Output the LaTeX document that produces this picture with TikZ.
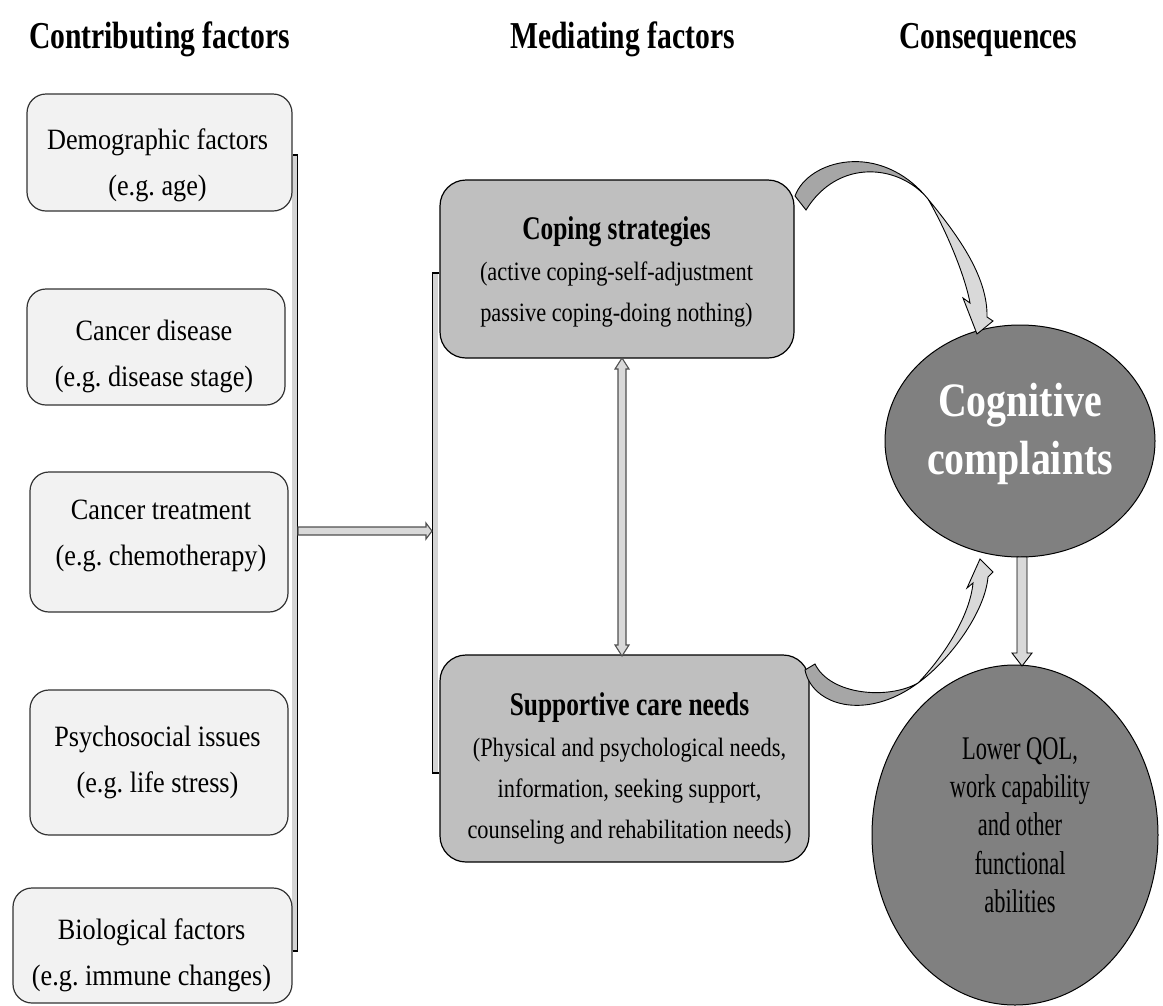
\documentclass[tikz,border=0pt]{standalone}
\usepackage{fontspec}
\setmainfont{Liberation Serif}
\newfontfamily\fleft[FakeStretch=0.89]{Liberation Serif}
\newfontfamily\fmid[FakeStretch=0.845]{Liberation Serif}
\newfontfamily\fmidb[FakeStretch=0.77]{Liberation Serif}
\newfontfamily\ftitle[FakeStretch=0.78]{Liberation Serif}
\newfontfamily\fcog[FakeStretch=0.83]{Liberation Serif}
\newfontfamily\fqol[FakeStretch=0.68]{Liberation Serif}
\usetikzlibrary{shapes.geometric}
\definecolor{leftfill}{HTML}{F2F2F2}
\definecolor{midfill}{HTML}{BFBFBF}
\definecolor{ovalfill}{HTML}{808080}
\definecolor{arrlight}{HTML}{D9D9D9}
\definecolor{arrdark}{HTML}{A6A6A6}
\definecolor{shadowgray}{HTML}{D4D4D4}
\definecolor{arrline}{HTML}{505050}
\frenchspacing
\begin{document}
\begin{tikzpicture}[x=1pt,y=-1pt,
  leftbox/.style={draw=black!80, line width=1.2pt, fill=leftfill, rounded corners=19pt, inner sep=0pt},
  midbox/.style={draw=black, line width=1.2pt, fill=midfill, rounded corners=26pt, inner sep=0pt},
  oval/.style={ellipse, draw=black, line width=1pt, fill=ovalfill, inner sep=0pt},
  titletext/.style={font=\ftitle\bfseries\fontsize{38}{42}\selectfont, anchor=base, inner sep=0pt},
  lefttext/.style={font=\fleft\fontsize{29.5}{46}\selectfont, align=center, inner sep=0pt},
  midtext/.style={font=\fmid\fontsize{26.5}{41}\selectfont, align=center, inner sep=0pt},
  hollow/.style={fill=arrlight, draw=arrline, line width=1.1pt, line join=miter},
  bendlight/.style={fill=arrlight, draw=black, line width=0.9pt},
  benddark/.style={fill=arrdark, draw=black, line width=0.9pt},
  bracket/.style={draw=black, line width=1.2pt}
]
\useasboundingbox (0,0) rectangle (1163,1005);

% titles
\node[titletext] (t1) at (159.5,48) {Contributing factors};
\node[titletext] (t2) at (622.5,48) {Mediating factors};
\node[titletext] (t3) at (988.5,48) {Consequences};

% bracket shadows
\fill[shadowgray] (292,155) rectangle (297,951);
\fill[shadowgray] (433,273) rectangle (438,773);

% left boxes
\node[leftbox, minimum width=265pt, minimum height=117pt] (demo) at (159.5,152.5) {};
\node[leftbox, minimum width=258pt, minimum height=116pt] (dis) at (156,347) {};
\node[leftbox, minimum width=258pt, minimum height=140pt] (treat) at (159,542) {};
\node[leftbox, minimum width=258pt, minimum height=145pt] (psy) at (159,762.5) {};
\node[leftbox, minimum width=279pt, minimum height=115pt] (bio) at (152.5,945.5) {};

\node[lefttext] (demoT) at (157.5,165) {Demographic factors\\(e.g. age)};
\node[lefttext] (disT) at (154,356.5) {Cancer disease\\(e.g. disease stage)};
\node[lefttext] (treatT) at (161,536) {Cancer treatment\\(e.g. chemotherapy)};
\node[lefttext] (psyT) at (157.5,762) {Psychosocial issues\\(e.g. life stress)};
\node[lefttext] (bioT) at (151.5,955) {Biological factors\\(e.g. immune changes)};

% middle boxes
\node[midbox, minimum width=354pt, minimum height=178pt] (cope) at (617,269) {};
\node[midbox, minimum width=369pt, minimum height=207pt] (supp) at (624.5,758.5) {};

\node[midtext] (copeT) at (616.5,272) {{\fmidb\bfseries\fontsize{33}{41}\selectfont Coping strategies}\\(active coping-self-adjustment\\passive coping-doing nothing)};
\node[midtext] (suppT) at (629.5,768.5) {{\fmidb\bfseries\fontsize{33}{41}\selectfont Supportive care needs}\\(Physical and psychological needs,\\information, seeking support,\\counseling and rehabilitation needs)};

% ovals
\node[oval, minimum width=270pt, minimum height=232pt] (cog) at (1020,441) {};
\node[oval, minimum width=286pt, minimum height=340pt] (qol) at (1015,835) {};
\node[font=\fcog\bfseries\fontsize{48}{58}\selectfont, text=white, align=center, inner sep=0pt] (cogT) at (1020,434) {Cognitive\\complaints};
\node[font=\fqol\fontsize{33}{38.3}\selectfont, align=center, inner sep=0pt] (qolT) at (1020,825) {Lower QOL,\\work capability\\and other\\functional\\abilities};

% left bracket
\coordinate (lbT) at (297.5,155);
\coordinate (lbB) at (297.5,951);
\draw[bracket] (demo.east |- lbT) -- (lbT) -- (lbB) -- (bio.east |- lbB);
% right bracket
\coordinate (rbT) at (432.5,273);
\coordinate (rbB) at (432.5,773);
\draw[bracket] (cope.west |- rbT) -- (rbT) -- (rbB) -- (supp.west |- rbB);

% horizontal hollow arrow
\draw[hollow] (298,527) -- (426,527) -- (426,523) -- (432,531) -- (426,539) -- (426,535) -- (298,535) -- cycle;

% vertical double arrow between mediating boxes
\draw[hollow] (622,358) -- (629,369) -- (626,369) -- (626,645) -- (629,645) -- (622,656) -- (615,645) -- (618,645) -- (618,369) -- (615,369) -- cycle;

% down arrow cognitive -> qol
\draw[hollow, draw=black, line width=0.9pt] (1017,557) -- (1027,557) -- (1027,653) -- (1032,653) -- (1022,666) -- (1012,653) -- (1017,653) -- cycle;

% curved arrow: coping -> cognitive
\draw[bendlight] (928,199) .. controls (955,232) and (988,275) .. (987,317) -- (993,321) -- (977,334) -- (963,298) -- (970,303) .. controls (965,275) and (945,228) .. (928,199) -- cycle;
\draw[benddark] (795,196) .. controls (808,160) and (880,140) .. (928,199) .. controls (899,164) and (838,158) .. (806,210) -- cycle;

% curved arrow: supportive -> cognitive
\draw[benddark] (805,670) .. controls (812,705) and (865,722) .. (918,683) .. controls (888,700) and (830,695) .. (815,664) -- cycle;
\draw[bendlight] (918,683) .. controls (950,660) and (985,612) .. (988,577) -- (993,572) -- (980,559) -- (967,588) -- (973,583) .. controls (970,615) and (945,655) .. (918,683) -- cycle;

\end{tikzpicture}
\end{document}
